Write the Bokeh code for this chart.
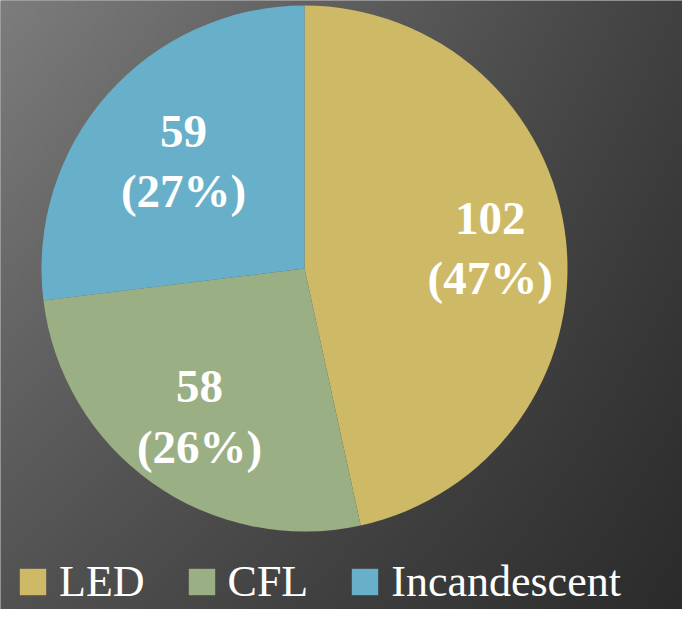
import numpy as np
from bokeh.plotting import figure
from bokeh.models import Range1d, ColumnDataSource
from bokeh.core.properties import value
from bokeh.embed import file_html
from bokeh.resources import INLINE

# ---- data ----
categories = ["LED", "CFL", "Incandescent"]
counts = [102, 58, 59]
colors = ["#CEB966", "#9BAF84", "#68B0C9"]

# ---- layout / style constants ----
W, H = 682, 609
CX, CY, R = 304, 341, 263
label_r = [0.71, 0.69, 0.614]

total = sum(counts)
fracs = np.array(counts) / total
cum = np.concatenate([[0], np.cumsum(fracs)])
start = np.pi / 2 - cum[:-1] * 2 * np.pi
end = np.pi / 2 - cum[1:] * 2 * np.pi
mid = (start + end) / 2
pct = ["(%d%%)" % round(100 * f) for f in fracs]

src = ColumnDataSource(dict(name=categories, start=start, end=end, color=colors,
                            val=[str(c) for c in counts], pct=pct,
                            lx=CX + np.array(label_r) * R * np.cos(mid),
                            ly=CY + np.array(label_r) * R * np.sin(mid)))

p = figure(width=W, height=H, x_range=Range1d(0, W), y_range=Range1d(0, H),
           output_backend="svg", toolbar_location=None, min_border=0,
           x_axis_location=None, y_axis_location=None)
p.grid.visible = False
p.outline_line_color = None
p.background_fill_color = "#555555"
p.border_fill_color = "#555555"

# background gradient (bilinear between corner greys)
nx, ny = 170, 152
xs = (np.arange(nx) + 0.5) / nx
ys = (np.arange(ny) + 0.5) / ny  # 0 = bottom
U, V = np.meshgrid(xs, ys)
Tt = 1 - V  # 0 at top
tl, tr, bl, br = 125, 65, 82, 43
top = tl + (tr - tl) * U
bot = bl + (br - bl) * U
g = (top + (bot - top) * Tt).astype(np.uint32)
img = (255 << 24) | (g << 16) | (g << 8) | g
p.image_rgba(image=[img.astype(np.uint32)], x=0, y=0, dw=W, dh=H)

p.wedge(x=CX, y=CY, radius=R, start_angle="start", end_angle="end",
        direction="clock", fill_color="color", line_color=None,
        legend_field="name", source=src)

for col, off in (("val", -30), ("pct", 30)):
    p.text(x="lx", y="ly", text=col, source=src, y_offset=off,
           text_align="center", text_baseline="middle", text_color="white",
           text_font=value("Liberation Serif"), text_font_style="bold",
           text_font_size="47px")

lg = p.legend[0]
lg.orientation = "horizontal"
lg.location = (16, 2)
lg.padding = 0
lg.margin = 0
lg.spacing = 40
lg.label_standoff = 10
lg.glyph_width = 33
lg.glyph_height = 33
lg.label_height = 30
lg.label_text_font = "Liberation Serif"
lg.label_text_font_size = "44px"
lg.label_text_color = "white"
lg.background_fill_alpha = 0
lg.border_line_color = None

open("out.html", "w").write(file_html(p, INLINE))
